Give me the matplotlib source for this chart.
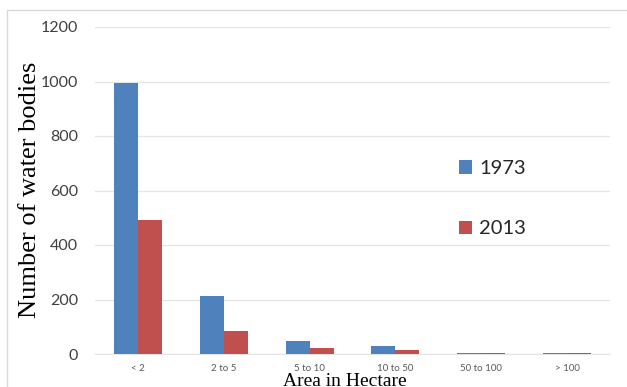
import matplotlib
matplotlib.use("Agg")
import matplotlib.pyplot as plt
from matplotlib.patches import Rectangle
import numpy as np

# data
categories = ["< 2", "2 to 5", "5 to 10", "10 to 50", "50 to 100", "> 100"]
count_1973 = [995, 212, 47, 28, 4, 3]
count_2013 = [490, 85, 21, 13, 2, 2]
years = ["1973", "2013"]

blue = "#4F81BD"
red = "#C0504D"

fig = plt.figure(figsize=(6.27, 3.87), dpi=100)
ax = fig.add_axes([95 / 627, 1 - 354 / 387, 515 / 627, 327 / 387])

x = np.arange(len(categories))
w = 0.28
ax.bar(x - w / 2, count_1973, w, color=blue, label=years[0], zorder=3)
ax.bar(x + w / 2, count_2013, w, color=red, label=years[1], zorder=3)

ax.set_xlim(-0.5, len(categories) - 0.5)
ax.set_ylim(0, 1200)
ax.set_yticks(range(0, 1201, 200))
ax.set_xticks(x)
ax.set_xticklabels(categories, fontsize=7, family="Lato", color="#595959")
for lab in ax.get_yticklabels():
    lab.set_family("Lato")
    lab.set_fontsize(11.5)
    lab.set_color("#404040")
ax.tick_params(axis="y", length=0, pad=12)
ax.tick_params(axis="x", length=0, pad=7)
ax.grid(axis="y", color="#E4E4E4", linewidth=0.9, zorder=0)
for s in ["top", "right", "left"]:
    ax.spines[s].set_visible(False)
ax.spines["bottom"].set_color("#E4E4E4")

leg = ax.legend(loc="upper left", frameon=False,
                prop={"family": "Lato", "size": 14.5}, labelspacing=2.15,
                handlelength=0.65, handleheight=0.65, handletextpad=0.35)
leg.set_bbox_to_anchor((441 / 627, 1 - 142 / 387), transform=fig.transFigure)
for t in leg.get_texts():
    t.set_color("#262626")

fig.text(30 / 627, 1 - 190 / 387, "Number of water bodies", rotation=90,
         ha="center", va="center", family="Liberation Serif", fontsize=19)
fig.text(345 / 627, 1.5 / 387, "Area in Hectare", ha="center", va="baseline",
         family="Liberation Serif", fontsize=14)

# light frame around the chart
fig.patches.append(Rectangle((7 / 627, -0.1), 1.2, 1 - 10 / 387 + 0.1,
                             transform=fig.transFigure, fill=False,
                             edgecolor="#D9D9D9", linewidth=1))

fig.savefig("out.png", dpi=100)
